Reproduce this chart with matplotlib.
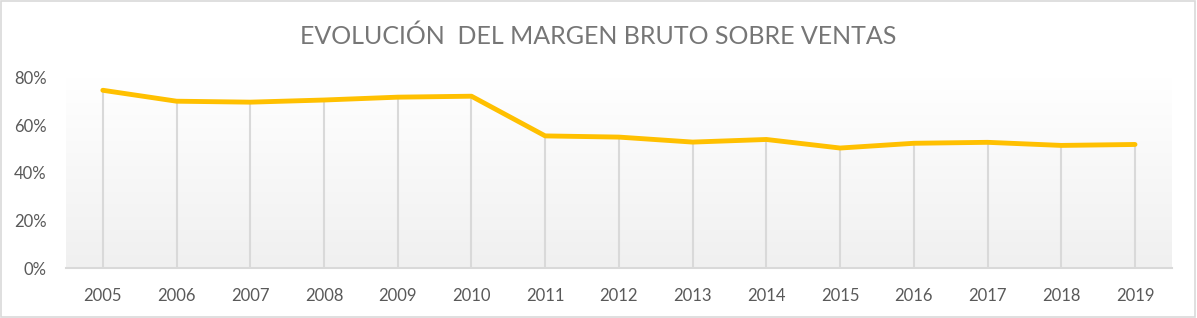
import numpy as np
import matplotlib.pyplot as plt

# datos
years = ['2005', '2006', '2007', '2008', '2009', '2010', '2011', '2012',
         '2013', '2014', '2015', '2016', '2017', '2018', '2019']
margin = [0.748, 0.702, 0.698, 0.707, 0.719, 0.723, 0.556, 0.551,
          0.530, 0.541, 0.505, 0.525, 0.529, 0.516, 0.520]
yticks = [0, 0.2, 0.4, 0.6, 0.8]
ylabels = ['0%', '20%', '40%', '60%', '80%']

plt.rcParams['font.family'] = ['Lato', 'DejaVu Sans']

fig = plt.figure(figsize=(11.97, 3.18), dpi=100)
ax = fig.add_axes([0.0551, 0.157, 0.9239, 0.598])

x = np.arange(len(years))

# fondo degradado del area de trazado
grad = np.linspace(0, 1, 256).reshape(-1, 1)
ax.imshow(grad, extent=[-0.5, len(years) - 0.5, 0, 0.8], aspect='auto',
          cmap=plt.matplotlib.colors.LinearSegmentedColormap.from_list(
              'g', ['#f0f0f0', '#ffffff']),
          origin='lower', zorder=0)

ax.vlines(x, 0, margin, color='#d9d9d9', lw=1.5, zorder=1)
ax.plot(x, margin, color='#ffc000', lw=3.5, solid_capstyle='round',
        solid_joinstyle='round', zorder=3)

ax.set_xlim(-0.5, len(years) - 0.5)
ax.set_ylim(0, 0.8)
ax.set_xticks(x)
ax.set_xticklabels(years)
ax.set_yticks(yticks)
ax.set_yticklabels(ylabels)
ax.tick_params(axis='both', length=0, labelsize=12, colors='#595959')
ax.tick_params(axis='x', pad=14)
ax.tick_params(axis='y', pad=14)

for s in ['top', 'right', 'left']:
    ax.spines[s].set_visible(False)
ax.spines['bottom'].set_color('#d9d9d9')
ax.spines['bottom'].set_linewidth(1.5)
ax.spines['bottom'].set_zorder(2)

fig.text(0.5, 0.885, 'EVOLUCIÓN  DEL MARGEN BRUTO SOBRE VENTAS',
         ha='center', va='center', fontsize=18, color='#767676')

# borde del grafico
fig.patches.append(plt.Rectangle((0.001, 0.002), 0.997, 0.995,
                                 transform=fig.transFigure, fill=False,
                                 edgecolor='#d9d9d9', lw=1.2))

fig.savefig('out.png', dpi=100)
